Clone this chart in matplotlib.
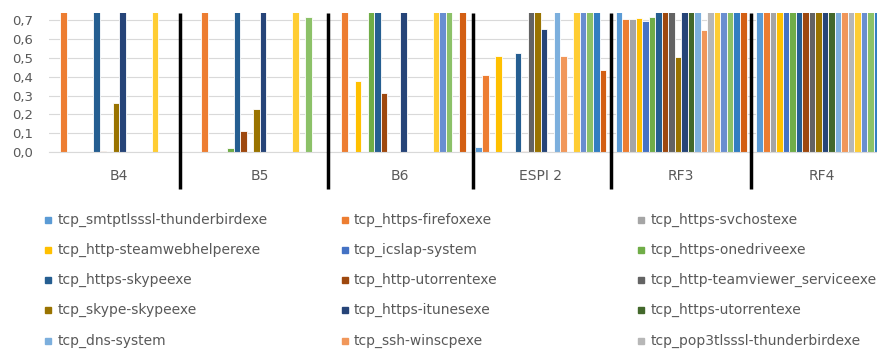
import matplotlib
matplotlib.use("Agg")
import matplotlib.pyplot as plt
from matplotlib.patches import Rectangle
import numpy as np

categories = ["B4", "B5", "B6", "ESPI 2", "RF3", "RF4"]

legend_names = [
    "tcp_smtptlsssl-thunderbirdexe", "tcp_https-firefoxexe", "tcp_https-svchostexe",
    "tcp_http-steamwebhelperexe", "tcp_icslap-system", "tcp_https-onedriveexe",
    "tcp_https-skypeexe", "tcp_http-utorrentexe", "tcp_http-teamviewer_serviceexe",
    "tcp_skype-skypeexe", "tcp_https-itunesexe", "tcp_https-utorrentexe",
    "tcp_dns-system", "tcp_ssh-winscpexe", "tcp_pop3tlsssl-thunderbirdexe",
]

colors = [
    "#5B9BD5", "#ED7D31", "#A5A5A5", "#FFC000", "#4472C4", "#70AD47",
    "#255E91", "#9E480E", "#636363", "#997300", "#264478", "#43682B",
    "#7CAFDD", "#F1975A", "#B7B7B7", "#FFCD33", "#698ED0", "#8CC168",
    "#327EC2", "#D35F13",
]

# one value per series (20 series) for each category
b4 = [0, 1, 0, 0, 0, 0.002, 1, 0.005, 0, 0.262, 1, 0, 0, 0, 0, 1, 0, 0, 0, 0]
b5 = [0, 1, 0, 0, 0, 0.023, 1, 0.11, 0, 0.23, 1, 0, 0, 0, 0, 1, 0, 0.718, 0, 0]
b6 = [0, 1, 0, 0.379, 0, 1, 1, 0.315, 0, 0, 1, 0, 0, 0, 0, 1, 1, 1, 0, 1]
espi2 = [0.027, 0.408, 0, 0.512, 0, 0, 0.525, 0.005, 1, 1, 0.653, 0, 1, 0.511, 0, 1, 1, 1, 1, 0.436]
rf3 = [1, 0.709, 0.707, 0.714, 0.695, 0.718, 1, 1, 1, 0.505, 1, 1, 1, 0.651, 1, 1, 1, 1, 1, 1]
rf4 = [1] * 20

separators = [0.43, 1.486, 2.519, 3.499, 4.496]

values = np.array([b4, b5, b6, espi2, rf3, rf4])
n_series = values.shape[1]

W, H = 878, 349
fig = plt.figure(figsize=(W / 100, H / 100), dpi=100)
ax = fig.add_axes([49 / W, 1 - 152 / H, 843 / W, 139.5 / H])

x = np.arange(len(categories))
bw = 0.04648
start = -bw * n_series / 2
for i in range(n_series):
    ax.bar(x + start + (i + 0.5) * bw, values[:, i], width=bw, color=colors[i],
           edgecolor="white", linewidth=0.6, zorder=2)

ax.set_xlim(-0.5, len(categories) - 0.5)
ax.set_ylim(0, 0.742)
ax.set_yticks(np.arange(0, 0.71, 0.1))
ax.set_yticklabels([f"{v:.1f}".replace(".", ",") for v in np.arange(0, 0.71, 0.1)])
ax.set_xticks(x)
ax.set_xticklabels(categories)
ax.tick_params(axis="y", length=0, pad=11.5, labelsize=9.5, labelcolor="#595959")
ax.tick_params(axis="x", length=0, pad=12, labelsize=10, labelcolor="#595959")
ax.grid(axis="y", color="#D9D9D9", linewidth=0.8, zorder=0)
for s in ["top", "right", "left"]:
    ax.spines[s].set_visible(False)
ax.spines["bottom"].set_color("#D9D9D9")
ax.spines["bottom"].set_linewidth(0.8)

# thick group dividers running down into the label band
ax.vlines(separators, -0.197, 0.742, color="black", linewidth=2.5, clip_on=False, zorder=5)

# legend, filled row by row in three columns
col_x = [45, 341.5, 638]
row_y = [220, 250, 280, 310, 341]
for k, name in enumerate(legend_names):
    r, c = divmod(k, 3)
    px, py = col_x[c], row_y[r]
    fig.add_artist(Rectangle((px / W, 1 - (py + 3) / H), 6 / W, 6 / H,
                             transform=fig.transFigure, color=colors[k]))
    fig.text((px + 12.5) / W, 1 - py / H, name, fontsize=10, color="#595959",
             va="center", ha="left")

fig.savefig("out.png", dpi=100)
